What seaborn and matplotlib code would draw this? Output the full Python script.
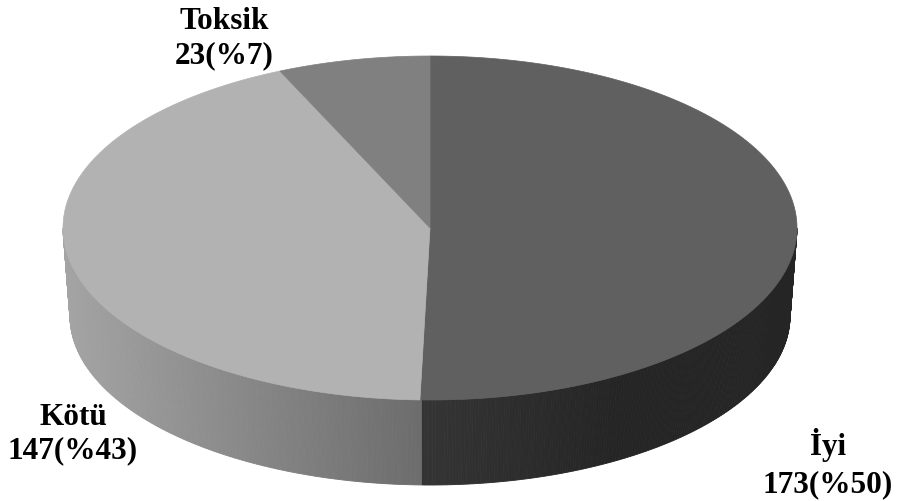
import numpy as np
import matplotlib
matplotlib.use("Agg")
import matplotlib.pyplot as plt
from matplotlib.patches import Polygon
import seaborn as sns

# Data
categories = ["İyi", "Kötü", "Toksik"]
counts = [173, 147, 23]

# Styling
top_colors = ["#606060", "#b2b2b2", "#808080"]
side_ramps = [["#343434", "#252525", "#252525"], ["#6b6b6b", "#a4a4a4"], ["#6e6e6e", "#6e6e6e"]]

sns.set_theme(style="white")
plt.rcParams["font.family"] = ["Liberation Serif", "DejaVu Serif"]

W, H = 897, 501
fig = plt.figure(figsize=(W / 100, H / 100), dpi=100)
ax = fig.add_axes([0, 0, 1, 1])
ax.set_xlim(0, W)
ax.set_ylim(H, 0)
ax.axis("off")

# Geometry of the tilted disc (pixel space)
cx, cy = 430, 228
rx, ry = 367, 172
depth = 88
rxb, ryb = 360, 169


def top_pt(theta):
    return cx + rx * np.sin(theta), cy - ry * np.cos(theta)


def bot_pt(theta):
    return cx + rxb * np.sin(theta), cy + depth - ryb * np.cos(theta)


total = sum(counts)
fracs = np.array(counts) / total
bounds = np.concatenate([[0], np.cumsum(fracs)]) * 2 * np.pi  # clockwise from 12 o'clock

# Side wall (front half only: theta in [pi/2, 3pi/2])
n_strips = 400
ts = np.linspace(np.pi / 2, 3 * np.pi / 2, n_strips + 1)
ramps = [sns.blend_palette(r, 256) for r in side_ramps]
for t0, t1 in zip(ts[:-1], ts[1:]):
    tm = 0.5 * (t0 + t1)
    idx = int(np.searchsorted(bounds, tm) - 1)
    idx = min(max(idx, 0), len(counts) - 1)
    # shade by horizontal distance from the centre line
    s = min(abs(np.sin(tm)), 1.0)
    col = ramps[idx][int(s * 255)]
    pts = [top_pt(t0), top_pt(t1), bot_pt(t1), bot_pt(t0)]
    ax.add_patch(Polygon(pts, closed=True, facecolor=col, edgecolor=col,
                         linewidth=0.6, antialiased=True))

# Top face wedges
for i, (a0, a1) in enumerate(zip(bounds[:-1], bounds[1:])):
    th = np.linspace(a0, a1, max(int((a1 - a0) / (2 * np.pi) * 720), 8))
    pts = [(cx, cy)] + [top_pt(t) for t in th]
    ax.add_patch(Polygon(pts, closed=True, facecolor=top_colors[i],
                         edgecolor=top_colors[i], linewidth=0.5))

# Labels
label_pos = {
    "İyi": (828, 455, 492),
    "Kötü": (73, 425, 458),
    "Toksik": (224, 29, 63),
}
for cat, v in zip(categories, counts):
    x, y1, y2 = label_pos[cat]
    pct = int(round(100 * v / total))
    ax.text(x, y1, cat, ha="center", va="baseline", fontsize=22.5,
            fontweight="bold", color="black")
    ax.text(x, y2, f"{v}(%{pct})", ha="center", va="baseline", fontsize=22.5,
            fontweight="bold", color="black")

fig.savefig("out.png", dpi=100, facecolor="white")
